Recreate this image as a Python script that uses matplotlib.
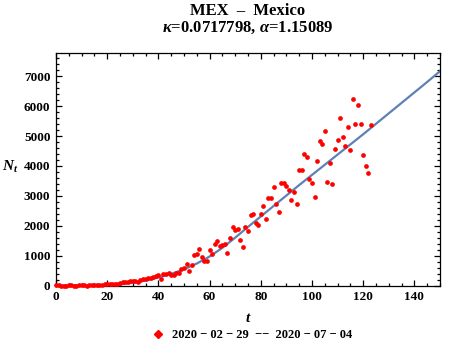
import matplotlib
matplotlib.use('Agg')
import matplotlib.pyplot as plt
from matplotlib.lines import Line2D
from matplotlib.ticker import MultipleLocator

plt.rcParams['font.family'] = 'Liberation Serif'
plt.rcParams['font.weight'] = 'bold'
plt.rcParams['mathtext.fontset'] = 'custom'
plt.rcParams['mathtext.it'] = 'Liberation Serif:italic:bold'
plt.rcParams['mathtext.rm'] = 'Liberation Serif:bold'

# daily new cases, t = days since 2020-02-29
days = list(range(124))
new_cases = [
    1, 1, 0, 0, 0, 1, 2, 0, 0, 1, 4, 4, 0, 14, 15, 12, 29, 25, 25, 46,
    39, 48, 65, 51, 38, 70, 131, 118, 131, 145, 151, 163, 132, 178, 225, 202, 240, 260,
    294, 327, 361, 227, 394, 394, 428, 361, 361, 428, 428, 561, 595, 729, 495, 695,
    1030, 1063, 1230, 963, 829, 829, 1197, 1063, 1398, 1498, 1331, 1364, 1398,
    1097, 1598, 1966, 1866, 1889, 1531, 1297, 1966, 1832, 2367, 2401, 2100, 2033,
    2401, 2668, 2234, 2936, 2936, 3304, 2735, 2468, 3438, 3438, 3337, 3194, 2869, 3127,
    2735, 3872, 3872, 4408, 4307, 3571, 3438, 2969, 4173, 4842, 4742, 5177, 3471,
    4107, 3404, 4565, 4876, 5612, 4976, 4675, 5311, 4541, 6247, 5411, 6046, 5411,
    4374, 4006, 3772, 5378,
]

# fitted curve
fit_t = [0, 5, 10, 15, 20, 25, 30, 35, 40, 45, 50, 55, 60, 65, 70, 75, 80, 85, 90,
         95, 100, 105, 110, 115, 120, 125, 130, 135, 140, 145, 150]
fit_n = [0, 0, 1, 5, 15, 40, 90, 165, 270, 390, 540, 735, 970, 1260, 1600, 1960,
         2310, 2660, 3010, 3360, 3700, 4040, 4380, 4720, 5060, 5410, 5760, 6110,
         6460, 6810, 7170]

fig = plt.figure(figsize=(4.5, 3.43), dpi=100)
ax = fig.add_axes([0.1244, 0.1676, 0.8533, 0.6788])

ax.plot(fit_t, fit_n, color='#5E81B5', lw=1.6, zorder=2)
ax.plot(days, new_cases, 'o', color='red', ms=3.4, mec='none', zorder=3, clip_on=False)

ax.set_xlim(0, 150)
ax.set_ylim(0, 7790)
ax.xaxis.set_major_locator(MultipleLocator(20))
ax.xaxis.set_minor_locator(MultipleLocator(5))
ax.yaxis.set_major_locator(MultipleLocator(1000))
ax.yaxis.set_minor_locator(MultipleLocator(200))
ax.tick_params(which='both', direction='in', top=True, right=True,
               labelsize=9.5, width=0.9, pad=4)
ax.tick_params(which='major', length=4)
ax.tick_params(which='minor', length=2)
for s in ax.spines.values():
    s.set_linewidth(0.9)

fig.text(0.551, 1 - 11 / 343, 'MEX  \u2013  Mexico', ha='center', va='center', fontsize=12)
fig.text(0.551, 1 - 28 / 343, r'$\kappa$=0.0717798, $\alpha$=1.15089',
         ha='center', va='center', fontsize=12)
fig.text(248 / 450, 1 - 318 / 343, '$t$', ha='center', va='center', fontsize=11)
fig.text(10 / 450, 1 - 167 / 343, '$N_t$', ha='center', va='center', fontsize=11)

h = Line2D([], [], marker='D', color='red', ls='none', ms=4.5)
ax.legend([h], ['2020 \u2212 02 \u2212 29  \u2212\u2212  2020 \u2212 07 \u2212 04'],
          loc='center', bbox_to_anchor=(252 / 450, 1 - 335.5 / 343),
          bbox_transform=fig.transFigure, frameon=False, fontsize=9,
          handlelength=1.0, handletextpad=0.6, borderpad=0)

fig.savefig('out.png', dpi=100)
